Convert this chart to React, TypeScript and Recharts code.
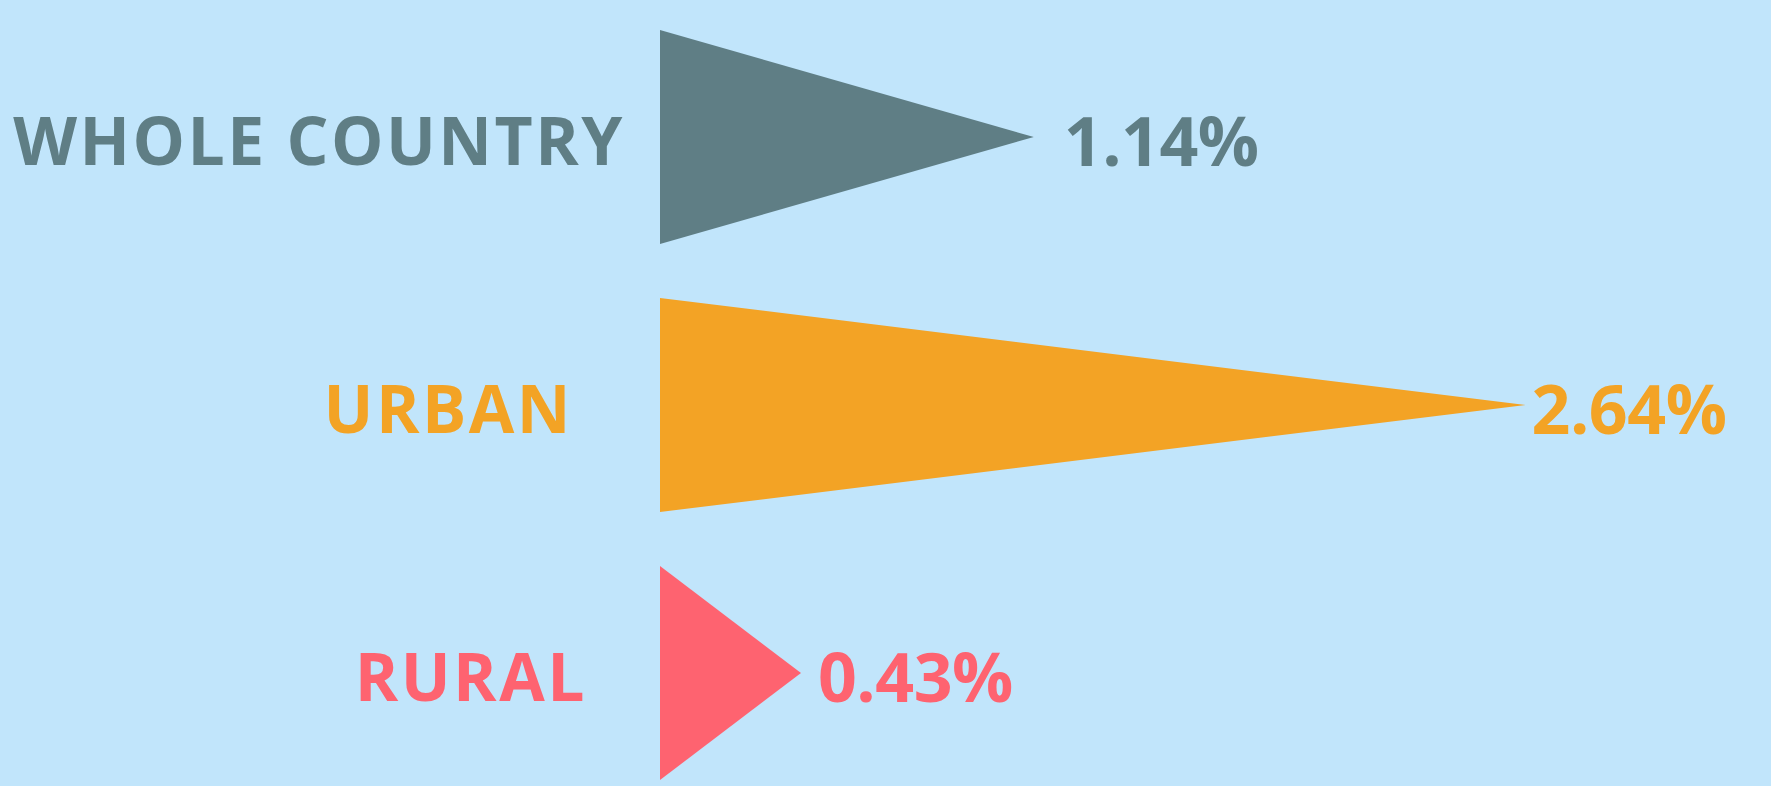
import { BarChart, Bar, XAxis, YAxis, Cell, LabelList } from 'recharts';

// values
const categories = ['WHOLE COUNTRY', 'URBAN', 'RURAL'];
const growthRates = [1.14, 2.64, 0.43];
const valueLabels = ['1.14%', '2.64%', '0.43%'];

const colors = ['#5f7e85', '#f3a325', '#fe6370'];
const labelShift = [-35, -87, -73]; // category labels are not aligned in the original
const valueGap = [30, 6, 17];

const data = categories.map((name, i) => ({ name, value: growthRates[i], label: valueLabels[i] }));

const FONT = '"Open Sans", "Noto Sans", sans-serif';

// triangle pointing right, spanning the bar's box
const Triangle = (props: any) => {
  const { x, y, width, height, fill } = props;
  if (width == null || height == null) return null;
  const d = `M${x},${y} L${x + width},${y + height / 2} L${x},${y + height} Z`;
  return <path d={d} fill={fill} />;
};

const CategoryTick = (props: any) => {
  const { x, y, payload, index } = props;
  return (
    <text
      x={x + labelShift[index]}
      y={y + 2}
      textAnchor="end"
      dominantBaseline="central"
      fill={colors[index]}
      fontFamily={FONT}
      fontWeight={700}
      fontSize={66}
      letterSpacing={2.5}
    >
      {payload.value}
    </text>
  );
};

const ValueLabel = (props: any) => {
  const { x, y, width, height, index } = props;
  return (
    <text
      x={x + width + valueGap[index]}
      y={y + height / 2 + 2}
      textAnchor="start"
      dominantBaseline="central"
      fill={colors[index]}
      fontFamily={FONT}
      fontWeight={700}
      fontSize={68}
      letterSpacing={-0.5}
    >
      {valueLabels[index]}
    </text>
  );
};

export default function App() {
  return (
    <div
      style={{
        position: 'fixed',
        left: 0,
        top: 0,
        width: 1771,
        height: 786,
        overflow: 'hidden',
        background: '#c1e5fb',
      }}
    >
      <BarChart
        width={1771}
        height={807}
        data={data}
        layout="vertical"
        margin={{ top: 3, right: 29, bottom: 0, left: 0 }}
      >
        <XAxis type="number" domain={[0, 3.3]} hide />
        <YAxis
          type="category"
          dataKey="name"
          width={660}
          axisLine={false}
          tickLine={false}
          tickSize={0}
          tickMargin={0}
          tick={<CategoryTick />}
          interval={0}
        />
        <Bar dataKey="value" barSize={214} shape={<Triangle />} isAnimationActive={false}>
          {data.map((d, i) => (
            <Cell key={d.name} fill={colors[i]} />
          ))}
          <LabelList dataKey="label" content={<ValueLabel />} />
        </Bar>
      </BarChart>
    </div>
  );
}
